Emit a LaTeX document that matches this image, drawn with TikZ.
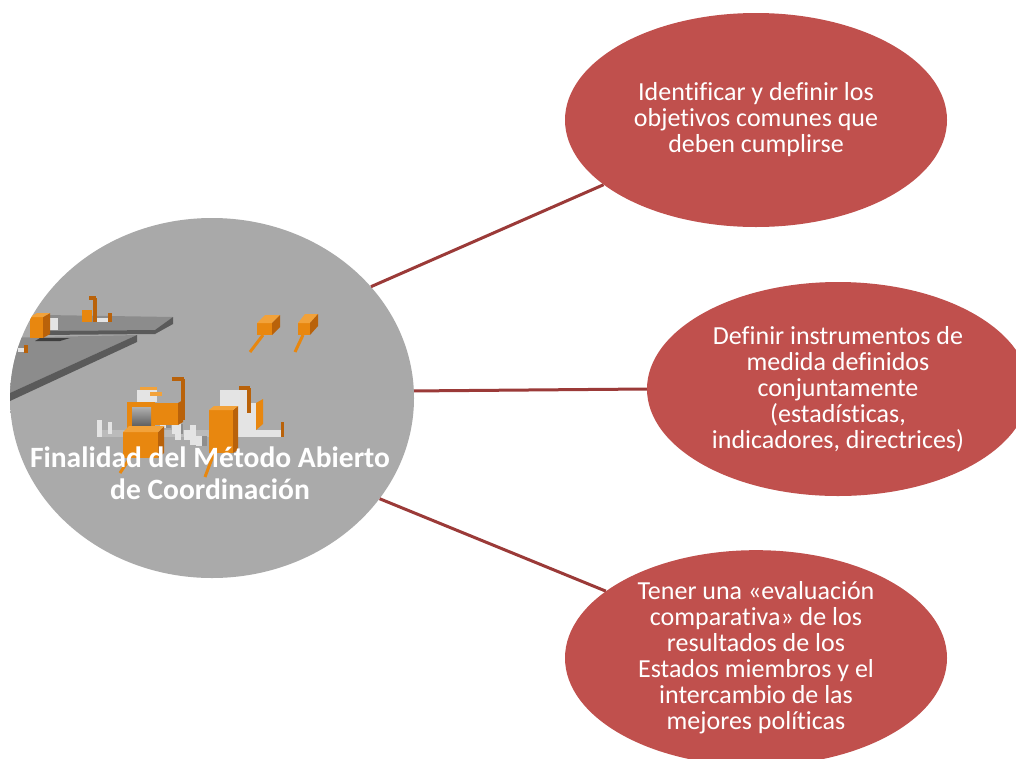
\documentclass[tikz,border=0pt]{standalone}
\usepackage{fontspec}
\setmainfont[Ligatures=NoCommon]{Carlito}
\usetikzlibrary{shapes.geometric}
\definecolor{accred}{HTML}{C0504D}
\definecolor{linered}{HTML}{9B3A38}
\definecolor{orA}{HTML}{E8870F}
\definecolor{orB}{HTML}{F2A23A}
\definecolor{orC}{HTML}{B9620A}
\definecolor{slabtop}{HTML}{8C8C8C}
\definecolor{slabside}{HTML}{5A5A5A}
\definecolor{bgtop}{HTML}{A9A9A9}
\definecolor{bgmid}{HTML}{B3B3B3}
\definecolor{bgbot}{HTML}{AAAAAA}
\definecolor{whitebit}{HTML}{E4E4E4}
\definecolor{graybit}{HTML}{8E8E8E}
\begin{document}
\begin{tikzpicture}[x=1pt,y=-1pt,
  goal/.style={ellipse, fill=accred, minimum width=382pt, minimum height=214pt,
    inner sep=0pt, text=white, align=center, font=\fontsize{26}{26}\selectfont},
  hub/.style={ellipse, minimum width=404pt, minimum height=360pt, inner sep=0pt},
  title/.style={text=white, align=center, font=\bfseries\fontsize{29.5}{32}\selectfont},
  link/.style={draw=linered, line width=3pt},
  stick/.style={draw=orA, line width=3pt},
  pole/.style={draw=orC, line width=3.5pt}]
\useasboundingbox (0,0) rectangle (1016,758);
\fill[white] (0,0) rectangle (1016,758);

% ---------- central picture ----------
\node[hub] (hub) at (212,398) {};
\begin{scope}
\clip (212,398) ellipse [x radius=202, y radius=180];
\shade[top color=bgtop, middle color=bgmid, bottom color=bgbot] (0,210) rectangle (420,590);
% upper slab
\fill[slabtop] (45,315) -- (173,317) -- (155,330) -- (40,331) -- cycle;
\fill[slabside] (40,331) -- (155,330) -- (155,334) -- (40,335) -- cycle;
\fill[slabside] (155,330) -- (173,317) -- (173,324) -- (155,334) -- cycle;
% lower slab
\fill[slabtop] (-5,338) -- (137,335) -- (10,393) -- (-5,399) -- cycle;
\fill[slabside] (137,335) -- (137,342) -- (10,401) -- (-5,407) -- (-5,399) -- (10,393) -- cycle;
\fill[slabside!70!black] (40,338) -- (70,338) -- (60,341) -- (35,341) -- cycle;
% objects on slabs
\fill[whitebit] (44,318) rectangle (58,330);
\fill[orA] (30,317) rectangle (43,338);
\fill[orC] (43,317) -- (50,313) -- (50,334) -- (43,338) -- cycle;
\fill[orB] (30,317) -- (37,313) -- (50,313) -- (43,317) -- cycle;
\fill[orA] (82,310) rectangle (92,322);
\draw[pole] (95,298) -- (95,322);
\draw[pole] (89,298) -- (96,298);
\fill[orC] (108,313) rectangle (112,322);
\fill[whitebit] (97,318) rectangle (108,322);
\fill[orC] (24,345) rectangle (28,353);
\fill[whitebit] (18,348) rectangle (24,352);
% floating blocks
\fill[orA] (257,323) rectangle (272,335);
\fill[orB] (257,323) -- (265,315) -- (280,315) -- (272,323) -- cycle;
\fill[orC] (272,323) -- (280,315) -- (280,327) -- (272,335) -- cycle;
\draw[stick] (263,335) -- (250,352);
\fill[orA] (298,323) rectangle (310,335);
\fill[orB] (298,323) -- (305,314) -- (318,314) -- (310,323) -- cycle;
\fill[orC] (310,323) -- (318,314) -- (318,326) -- (310,335) -- cycle;
\draw[stick] (303,335) -- (295,352);
% cluster base
\fill[graybit!60!white] (97,430) rectangle (210,437);
\fill[whitebit] (97,420) rectangle (102,437);
\fill[whitebit] (108,422) rectangle (112,434);
\fill[whitebit] (233,430) rectangle (283,437);
\fill[orC] (281,422) rectangle (284,437);
% checkered pieces
\foreach \i in {0,1,2,3} {
  \fill[whitebit] (160+12*\i,418+6*\i) rectangle (166+12*\i,428+6*\i);
  \fill[graybit] (166+12*\i,418+6*\i) rectangle (171+12*\i,428+6*\i);
}
\fill[whitebit] (175,420) rectangle (181,440);
\fill[whitebit] (190,425) rectangle (196,445);
% left frame box
\fill[whitebit] (137,390) rectangle (157,402);
\fill[orB] (140,387) rectangle (157,390);
\fill[orB] (150,392) rectangle (162,396);
\fill[orA] (127,402) rectangle (155,428);
\shade[top color=graybit!70!white, bottom color=slabside] (132,407) rectangle (151,427);
\fill[orA] (155,403) rectangle (178,425);
\fill[orC] (178,403) -- (183,400) -- (183,422) -- (178,425) -- cycle;
\draw[pole] (183,379) -- (183,420);
\draw[pole] (172,379) -- (184,379);
% big orange block left
\fill[orA] (123,432) rectangle (158,458);
\fill[orC] (158,432) -- (164,426) -- (164,453) -- (158,458) -- cycle;
\fill[orB] (123,432) -- (129,426) -- (164,426) -- (158,432) -- cycle;
\draw[stick] (130,458) -- (120,473);
% right white blocks
\fill[whitebit] (220,390) rectangle (247,417);
\fill[whitebit] (237,403) rectangle (256,432);
\fill[orA] (256,403) -- (263,399) -- (263,424) -- (256,430) -- cycle;
\draw[pole] (249,388) -- (249,413);
\draw[pole] (239,388) -- (250,388);
% tall orange block
\fill[orA] (209,410) rectangle (233,453);
\fill[orC] (233,410) -- (238,406) -- (238,450) -- (233,453) -- cycle;
\fill[orB] (209,410) -- (214,406) -- (238,406) -- (233,410) -- cycle;
\draw[stick] (214,453) -- (205,477);
\end{scope}
\node[title] (title) at (210,473) {Finalidad del Método Abierto\\de Coordinación};

% ---------- goals ----------
\node[goal] (g1) at (756,120) {Identificar y definir los\\objetivos comunes que\\deben cumplirse};
\node[goal] (g2) at (838,389) {Definir instrumentos de\\medida definidos\\conjuntamente\\(estadísticas,\\indicadores, directrices)};
\node[goal] (g3) at (756,658) {Tener una «evaluación\\comparativa» de los\\resultados de los\\Estados miembros y el\\intercambio de las\\mejores políticas};

% ---------- connectors ----------
\draw[link] (hub.35.7) -- (g1.203);
\draw[link] (hub.2.2) -- (g2.180);
\draw[link] (hub.329.4) -- (g3.156.9);
\end{tikzpicture}
\end{document}
